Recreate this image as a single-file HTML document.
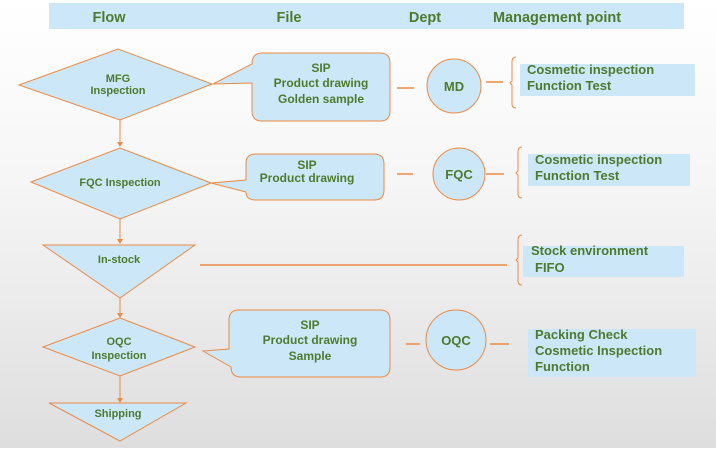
<!DOCTYPE html>
<html><head><style>
html,body{margin:0;padding:0}
body{width:716px;height:448px;background:linear-gradient(#ffffff 0%,#f6f6f6 40%,#dedede 100%);}
svg text{font-family:"Liberation Sans",sans-serif;font-weight:bold;fill:#4e7a2e;}
</style></head><body>
<svg width="716" height="448" xmlns="http://www.w3.org/2000/svg">
<rect x="49" y="3" width="635" height="26" fill="#cce8f8"/>
<g font-size="14.5" text-anchor="middle">
<text x="109" y="22">Flow</text><text x="289" y="22">File</text><text x="425" y="22">Dept</text><text x="557" y="22">Management  point</text></g>
<g stroke="#ec8a45" stroke-width="1" fill="#cce8f8">
<polygon points="19,85 118,49 212,84 120,120"/>
<path d="M213,84 L252,64 Q252,53 262,53 L380,53 Q390,53 390,63 L390,111 Q390,121 380,121 L262,121 Q252,121 252,111 L252,83 Z"/>
<circle cx="454" cy="86" r="27"/>
<polygon points="31,182 120,148 211,183 120,219"/>
<path d="M211,183 L246,180 L246,163 Q246,154 256,154 L374,154 Q384,154 384,164 L384,190 Q384,200 374,200 L256,200 Q246,200 246,192 Z"/>
<circle cx="459" cy="174" r="26"/>
<polygon points="43,245 195,245 120,298"/>
<polygon points="43,347 120,318 195,347 120,376"/>
<path d="M203,351 L229,349 L229,320 Q229,310 239,310 L380,310 Q390,310 390,320 L390,367 Q390,377 380,377 L241,377 Q231,377 231,367 Z"/>
<circle cx="456" cy="340" r="30"/>
<polygon points="49,403 186,403 120,441"/>
</g>
<g stroke="#ec8a45" stroke-width="1.5" fill="none">
<line x1="397" y1="88" x2="414" y2="88"/><line x1="486" y1="82" x2="503" y2="82"/>
<line x1="397" y1="174" x2="413" y2="174"/><line x1="486" y1="174" x2="504" y2="174"/>
<line x1="200" y1="265" x2="507" y2="265"/>
<line x1="406" y1="344" x2="420" y2="344"/><line x1="490" y1="344" x2="509" y2="344"/>
</g>
<g stroke="#ec8a45" stroke-width="1" fill="none">
<path d="M516,57 Q512,57 512,62 L512,81 L510,83 L512,85 L512,104 Q512,108 516,108"/>
<path d="M522,147 Q518,147 518,152 L518,171 L516,173 L518,175 L518,194 Q518,198 522,198"/>
<path d="M522,235 Q518,235 518,240 L518,258 L516,260 L518,262 L518,281 Q518,285 522,285"/>
<line x1="120" y1="120" x2="120" y2="146"/>
<line x1="120" y1="219" x2="120" y2="243"/>
<line x1="120" y1="298" x2="120" y2="316"/>
<line x1="120" y1="376" x2="120" y2="401"/>
</g>
<g fill="#ec8a45">
<path d="M117,142 L123,142 L120,147 z"/>
<path d="M117,239 L123,239 L120,244 z"/>
<path d="M117,313 L123,313 L120,318 z"/>
<path d="M117,398 L123,398 L120,403 z"/>
</g>
<rect x="520" y="64" width="175" height="32" fill="#cce8f8"/>
<rect x="528" y="154" width="162" height="32" fill="#cce8f8"/>
<rect x="523" y="246" width="161" height="31" fill="#cce8f8"/>
<rect x="528" y="329" width="168" height="48" fill="#cce8f8"/>
<g font-size="11" text-anchor="middle">
<text x="118" y="82">MFG</text><text x="118" y="94">Inspection</text>
<text x="120" y="186">FQC Inspection</text>
<text x="119" y="263">In-stock</text>
<text x="119" y="345">OQC</text><text x="119" y="359">Inspection</text>
<text x="118" y="417">Shipping</text>
</g>
<g font-size="12" text-anchor="middle">
<text x="321" y="72">SIP</text><text x="321" y="87">Product drawing</text><text x="321" y="103">Golden sample</text>
<text x="307" y="169">SIP</text><text x="307" y="182">Product drawing</text>
<text x="310" y="329">SIP</text><text x="310" y="344">Product drawing</text><text x="310" y="360">Sample</text>
<text x="454" y="91" font-size="13">MD</text>
<text x="459" y="179" font-size="13">FQC</text>
<text x="456" y="345" font-size="13">OQC</text>
</g>
<g font-size="13">
<text x="527" y="74">Cosmetic inspection</text><text x="527" y="90">Function Test</text>
<text x="535" y="164">Cosmetic inspection</text><text x="535" y="180">Function Test</text>
<text x="531" y="255">Stock environment</text><text x="535" y="272">FIFO</text>
<text x="535" y="339">Packing Check</text><text x="535" y="355">Cosmetic Inspection</text><text x="535" y="371">Function</text>
</g>
</svg>
</body></html>
